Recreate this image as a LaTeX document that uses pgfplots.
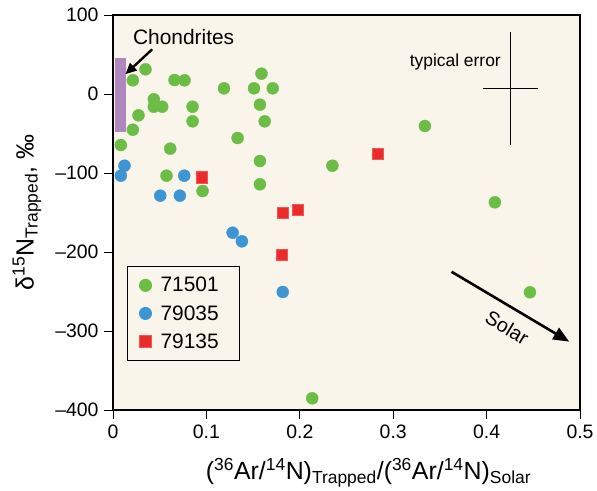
\documentclass[border=0pt]{standalone}
\usepackage{pgfplots}
\pgfplotsset{compat=1.18}
\usepackage{fontspec}
\setmainfont{Liberation Sans}
\usetikzlibrary{arrows.meta}
\definecolor{bg}{HTML}{FAF5EA}
\definecolor{cgreen}{HTML}{6BBD45}
\definecolor{cblue}{HTML}{3D95D3}
\definecolor{cred}{HTML}{EE2B2B}
\definecolor{cpurple}{HTML}{B086BE}
\begin{document}
\begin{tikzpicture}
\begin{axis}[
  scale only axis, width=467bp, height=395bp,
  xmin=0, xmax=0.5, ymin=-400, ymax=100,
  axis background/.style={fill=bg},
  axis line style={line width=2.2bp},
  xtick={0,0.1,0.2,0.3,0.4,0.5},
  xticklabels={0,0.1,0.2,0.3,0.4,0.5},
  ytick={-400,-300,-200,-100,0,100},
  yticklabels={--400,--300,--200,--100,0,100},
  tick align=outside, xtick pos=left, ytick pos=left,
  major tick length=9bp,
  tick style={black, line width=0.8bp},
  ticklabel style={font=\fontsize{19.5}{22}\selectfont},
  yticklabel style={xshift=-2bp},
  xticklabel style={yshift=-2bp},
  xlabel={(\textsuperscript{36}Ar/\textsuperscript{14}N)\textsubscript{Trapped}/(\textsuperscript{36}Ar/\textsuperscript{14}N)\textsubscript{Solar}},
  xlabel style={font=\fontsize{25}{28}\selectfont, at={(axis description cs:0.5,0)}, anchor=base, xshift=22bp, yshift=-69bp},
  ylabel={δ\textsuperscript{15}N\textsubscript{Trapped}, ‰},
  ylabel style={font=\fontsize{25}{28}\selectfont, at={(axis description cs:0,0.5)}, anchor=center, rotate=0, yshift=86bp},
  legend style={at={(0.03,0.365)}, anchor=north west, draw=black, line width=1bp, fill=bg,
    font=\fontsize{21}{24}\selectfont, row sep=8bp, inner xsep=12bp, inner ysep=9bp,
    nodes={inner xsep=9bp}},
  legend cell align=left,
  clip=false,
]
\addplot[fill=cpurple, draw=none, forget plot] coordinates {(0.002,-48) (0.014,-48) (0.014,46) (0.002,46)} -- cycle;
\addplot[only marks, mark=*, mark size=6bp, mark options={draw=cgreen, fill=cgreen}] coordinates {
(0.0348,31.3) (0.0212,17.3) (0.0659,17.7) (0.0766,17.3) (0.1188,7.2) (0.151,7.2) (0.159,25.7) (0.171,7.2)
(0.0437,-6.7) (0.0437,-16.1) (0.0527,-16.1) (0.0852,-16.1) (0.0273,-27) (0.0212,-45.2) (0.0852,-34.6)
(0.1573,-13.5) (0.1624,-34.6) (0.1334,-55.7) (0.0084,-64.6) (0.0613,-69.2) (0.1573,-84.8) (0.2349,-90.8)
(0.0573,-103.4) (0.0959,-122.8) (0.1573,-114.3) (0.3339,-40.5) (0.4089,-137.1) (0.4464,-251) (0.2133,-385.2)
};
\addlegendentry{71501}
\addplot[only marks, mark=*, mark size=6bp, mark options={draw=cblue, fill=cblue}] coordinates {
(0.0123,-90.8) (0.0084,-103.4) (0.0763,-103.4) (0.0506,-128.7) (0.0716,-128.7) (0.1281,-175.6) (0.1380,-186.5) (0.1817,-250.6)
};
\addlegendentry{79035}
\addplot[only marks, mark=square*, mark size=5.6bp, mark options={draw=cred!80!white, fill=cred}] coordinates {
(0.0949,-105.4) (0.1817,-150.2) (0.1978,-146.4) (0.1806,-203.4) (0.2832,-75.6)
};
\addlegendentry{79135}
% typical error cross
\addplot[black, line width=0.9bp, forget plot] coordinates {(0.4253,79) (0.4253,-64.6)};
\addplot[black, line width=0.9bp, forget plot] coordinates {(0.396,7.2) (0.4547,7.2)};
\node[anchor=east, font=\fontsize{17.5}{20}\selectfont] at (axis cs:0.419,40.5) {typical error};
% Chondrites
\node[font=\fontsize{21}{24}\selectfont] at (axis cs:0.0756,72) {Chondrites};
\draw[-{Triangle[length=11bp,width=10bp]}, line width=2.4bp] (axis cs:0.042,56.6) -- (axis cs:0.0134,25.2);
% Solar
\draw[-{Triangle[length=16bp,width=13bp]}, line width=2.6bp] (axis cs:0.3625,-225) -- (axis cs:0.4885,-313.5);
\node[rotate=-31, font=\fontsize{20}{22}\selectfont] at (axis cs:0.422,-296) {Solar};
\end{axis}
\pgfresetboundingbox
\path[use as bounding box] (current axis.south west) ++(-113bp,-81bp) rectangle ([shift={(17bp,15bp)}]current axis.north east);
\end{tikzpicture}
\end{document}
